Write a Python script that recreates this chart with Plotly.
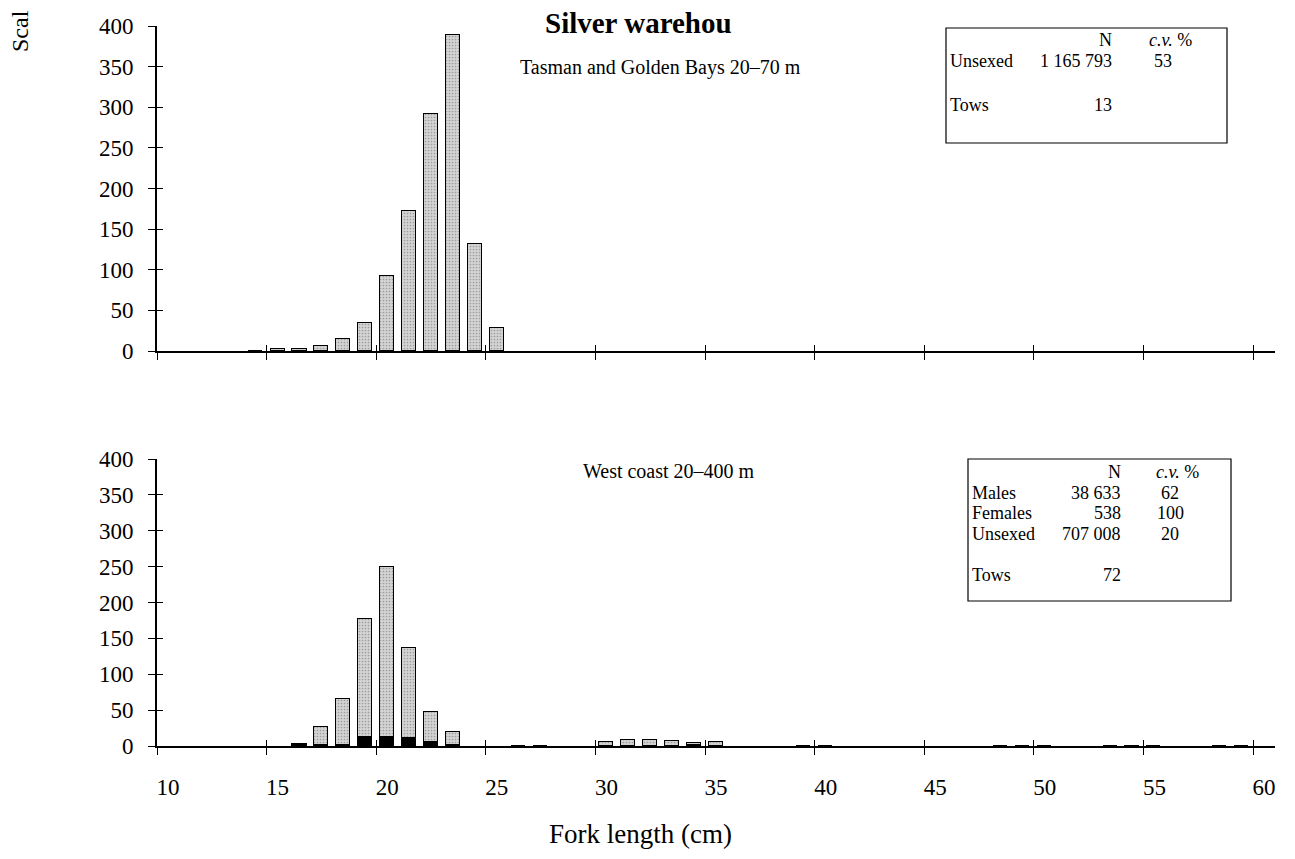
import plotly.graph_objects as go

# page is 1295x859, the browser adds an 8 px body margin around the figure
PAGE_W, PAGE_H, OFF = 1295, 859, 8
W, H = PAGE_W - 2 * OFF, PAGE_H - 2 * OFF

# ---------------- data ----------------
# length class lower bound (cm); bars sit at the centre of each 1 cm class
top_len = [14, 15, 16, 17, 18, 19, 20, 21, 22, 23, 24, 25]
top_unsexed = [0.5, 3, 2, 6, 15, 35, 92, 172, 292, 389, 132, 28]

bot_len = [16, 17, 18, 19, 20, 21, 22, 23, 26, 27, 30, 31, 32, 33, 34, 35,
           39, 40, 48, 49, 50, 53, 54, 55, 58, 59]
bot_males = [2, 1, 2, 12, 12, 11, 6, 1, None, None, None, None, None, None, 2, None,
             None, None, None, None, None, None, None, None, None, None]
bot_unsexed = [1, 25, 64, 165, 238, 126, 41, 18, 0.5, 0.5, 6, 9, 8, 7, 2, 6,
               0.5, 0.5, 0.5, 0.5, 0.5, 0.5, 0.5, 0.5, 0.5, 0.5]

x_ticks = [10, 15, 20, 25, 30, 35, 40, 45, 50, 55, 60]
y_ticks = [0, 50, 100, 150, 200, 250, 300, 350, 400]

title = "Silver warehou"
top_sub = "Tasman and Golden Bays 20–70 m"
bot_sub = "West coast 20–400 m"
x_title = "Fork length (cm)"
y_title_visible = "Scal"

top_table = [("", "N", "<i>c.v.</i> %"), ("Unsexed", "1 165 793", "53"), ("", "", ""), ("Tows", "13", "")]
bot_table = [("", "N", "<i>c.v.</i> %"), ("Males", "38 633", "62"), ("Females", "538", "100"),
             ("Unsexed", "707 008", "20"), ("", "", ""), ("Tows", "72", "")]

# ---------------- helpers ----------------
FONT = "Liberation Serif, Times New Roman, serif"


def px(x):
    return (x - OFF) / W


def py(y):
    return 1 - (y - OFF) / H


def centres(ls):
    return [l + 0.5 for l in ls]


grey = dict(color="#d4d4d4", line=dict(color="black", width=1.4),
            pattern=dict(shape=".", fgcolor="#666666", bgcolor="#d4d4d4", size=3, solidity=0.25, fillmode="overlay"))
black = dict(color="black", line=dict(color="black", width=1.0))

fig = go.Figure()
fig.add_trace(go.Bar(x=centres(top_len), y=top_unsexed, width=0.64, marker=grey,
                     xaxis="x", yaxis="y", name="Unsexed", hoverinfo="x+y"))
fig.add_trace(go.Bar(x=centres(bot_len), y=bot_males, width=0.64, marker=black,
                     xaxis="x2", yaxis="y2", name="Males"))
fig.add_trace(go.Bar(x=centres(bot_len), y=bot_unsexed, width=0.64, marker=grey,
                     xaxis="x2", yaxis="y2", name="Unsexed"))
# empty traces so the overlay (inside-tick) axes get drawn
fig.add_trace(go.Scatter(x=[], y=[], xaxis="x3", yaxis="y3", showlegend=False, hoverinfo="skip"))
fig.add_trace(go.Scatter(x=[], y=[], xaxis="x4", yaxis="y4", showlegend=False, hoverinfo="skip"))

xdom = [px(157), px(1275)]
top_dom = [py(351), py(26)]
bot_dom = [py(746), py(459)]
xr = [10, 61]
yr = [0, 400]

tickfont = dict(family=FONT, size=23, color="black")

base_x = dict(range=xr, domain=xdom, tickvals=x_ticks, showgrid=False, zeroline=False,
              showline=True, linecolor="black", linewidth=1.6, ticks="outside", ticklen=7,
              tickwidth=1.2, tickcolor="black", tickfont=tickfont, fixedrange=True, automargin=False)
base_y = dict(range=yr, tickvals=y_ticks, showgrid=False, zeroline=False,
              showline=True, linecolor="black", linewidth=1.6, ticks="outside", ticklen=7,
              tickwidth=1.2, tickcolor="black", tickfont=tickfont, fixedrange=True,
              ticklabelstandoff=10, automargin=False)
inner = dict(showgrid=False, zeroline=False, showline=False, ticks="inside", ticklen=6,
             tickwidth=1.2, tickcolor="black", showticklabels=False, fixedrange=True, automargin=False)

fig.update_layout(
    width=W, height=H, margin=dict(l=0, r=0, t=0, b=0, autoexpand=False),
    paper_bgcolor="white", plot_bgcolor="white", showlegend=False,
    barmode="stack", bargap=0,
    font=dict(family=FONT, color="black"),
    xaxis=dict(base_x, anchor="y", showticklabels=False),
    yaxis=dict(base_y, domain=top_dom, anchor="x"),
    xaxis2=dict(base_x, anchor="y2", showticklabels=True, ticklabelshift=11, ticklabelstandoff=13),
    yaxis2=dict(base_y, domain=bot_dom, anchor="x2"),
    xaxis3=dict(inner, range=xr, tickvals=x_ticks, overlaying="x", anchor="y3"),
    yaxis3=dict(inner, range=yr, tickvals=y_ticks, overlaying="y", anchor="x3"),
    xaxis4=dict(inner, range=xr, tickvals=x_ticks, overlaying="x2", anchor="y4"),
    yaxis4=dict(inner, range=yr, tickvals=y_ticks, overlaying="y2", anchor="x4"),
)

ann = []


def text(x, y, s, size=18, xanchor="center", bold=False, angle=0):
    ann.append(dict(x=px(x), y=py(y), xref="paper", yref="paper", text=("<b>%s</b>" % s) if bold else s,
                    showarrow=False, xanchor=xanchor, yanchor="middle", textangle=angle,
                    font=dict(family=FONT, size=size, color="black")))


text(638, 23, title, size=29, bold=True)
text(660, 68, top_sub, size=20)
text(669, 471, bot_sub, size=20)
text(640, 834, x_title, size=27)
text(20, 31, y_title_visible, size=24, angle=-90)


def table(rows, left, right, top, bottom, y0, dy, num_r, cv_c):
    fig.add_shape(type="rect", xref="paper", yref="paper", x0=px(left), x1=px(right),
                  y0=py(bottom), y1=py(top), line=dict(color="black", width=1.2))
    for i, (lab, n, cv) in enumerate(rows):
        y = y0 + i * dy
        if lab:
            text(left + 2, y, lab, xanchor="left")
        if n:
            text(num_r, y, n, xanchor="right")
        if cv:
            if i == 0:
                text(cv_c - 16, y, cv, xanchor="left")
            else:
                text(cv_c, y, cv)


table(top_table, 946, 1227, 28, 143, 40, 21.5, 1114, 1163)
table(bot_table, 968, 1231, 459, 601, 472, 20.5, 1123, 1170)

fig.update_layout(annotations=ann)
fig.write_html("out.html")
